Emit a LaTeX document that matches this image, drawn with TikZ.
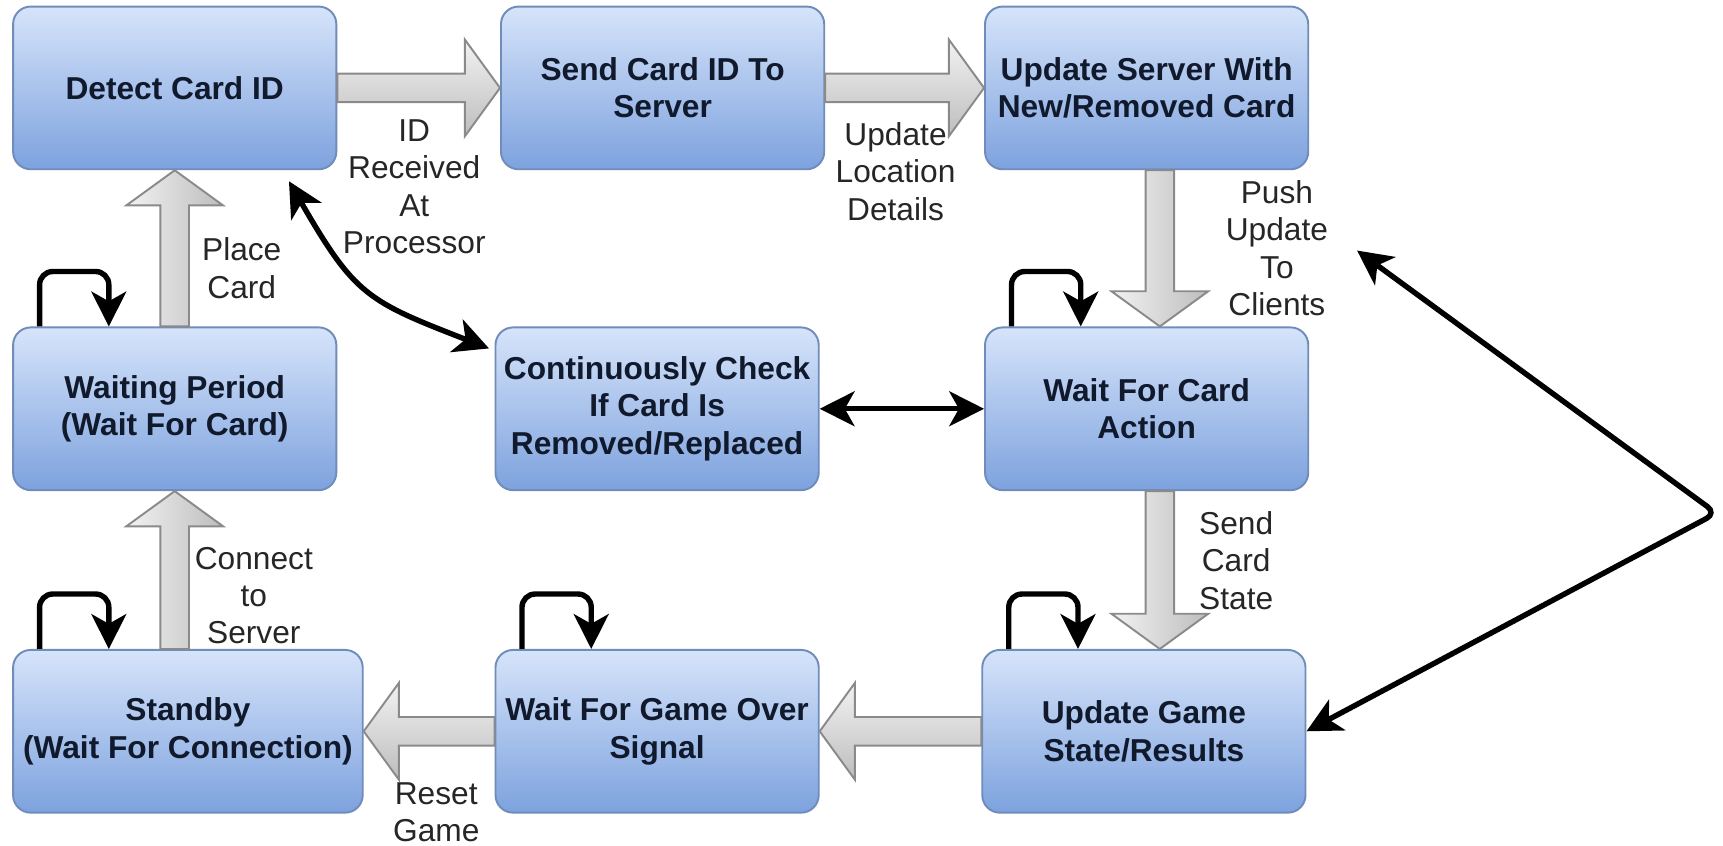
\documentclass[tikz,border=0pt]{standalone}
\usepackage{fontspec}
\setmainfont{Liberation Sans}
\usetikzlibrary{calc,arrows.meta}

\definecolor{boxtop}{HTML}{D6E4FA}
\definecolor{boxbottom}{HTML}{7DA2DE}
\definecolor{boxedge}{HTML}{6F8CBB}
\definecolor{boxtext}{HTML}{111A2C}
\definecolor{fattop}{HTML}{F2F2F2}
\definecolor{fatbottom}{HTML}{BDBDBD}
\definecolor{fatedge}{HTML}{8A8A8A}

\tikzset{
  state/.style={rectangle, rounded corners=0.16cm, draw=boxedge, line width=0.5pt,
    top color=boxtop, bottom color=boxbottom, text=boxtext,
    minimum width=2.94cm, minimum height=1.48cm, align=center, inner sep=1pt,
    font=\fontsize{8.2}{9.7}\selectfont\bfseries},
  note/.style={align=center, inner sep=0pt, text=black!85,
    font=\fontsize{8.2}{9.7}\selectfont},
  % wide grey arrow between two anchors
  fat/.style={draw=fatedge, line width=0.5pt, top color=fattop, bottom color=fatbottom,
    to path={let \p1=($(\tikztotarget)!0.32cm!(\tikztostart)$) in
      ($(\tikztostart)!0.13cm!90:(\tikztotarget)$)
      -- ($(\p1)!0.13cm!-90:(\tikztostart)$)
      -- ($(\p1)!0.44cm!-90:(\tikztostart)$)
      -- (\tikztotarget)
      -- ($(\p1)!0.44cm!90:(\tikztostart)$)
      -- ($(\p1)!0.13cm!90:(\tikztostart)$)
      -- ($(\tikztostart)!0.13cm!-90:(\tikztotarget)$) -- cycle}},
  tip/.tip={Stealth[length=9pt,width=9pt,inset=2.5pt]},
  link/.style={line width=1.4pt, tip-tip},
  selfloop/.style={line width=1.4pt, rounded corners=0.12cm, -tip}
}

\begin{document}
\begin{tikzpicture}[x=0.01cm, y=0.01cm]
  \useasboundingbox (0,0) rectangle (1568,-769);

  \node[state] (detect) at (159,-80) {Detect Card ID};
  \node[state] (send) at (603,-80) {Send Card ID To\\Server};
  \node[state] (server) at (1043.5,-80) {Update Server With\\New/Removed Card};
  \node[state] (waiting) at (159,-372) {Waiting Period\\(Wait For Card)};
  \node[state] (check) at (598,-372) {Continuously Check\\If Card Is\\Removed/Replaced};
  \node[state] (wfca) at (1043.5,-372) {Wait For Card\\Action};
  \node[state, minimum width=3.18cm] (standby) at (171,-665.5) {Standby\\(Wait For Connection)};
  \node[state] (gameover) at (598,-665.5) {Wait For Game Over\\Signal};
  \node[state] (game) at (1041,-665.5) {Update Game\\State/Results};

  \node[note] (idrx) at (377,-170) {ID\\Received\\At\\Processor};
  \node[note] (locdet) at (815,-156) {Update\\Location\\Details};
  \node[note] (push) at (1162,-226) {Push\\Update\\To\\Clients};
  \node[note] (place) at (220,-244) {Place\\Card};
  \node[note] (cardst) at (1125,-510) {Send\\Card\\State};
  \node[note] (connect) at (231,-542) {Connect\\to\\Server};
  \node[note] (reset) at (397,-739) {Reset\\Game};

  % main flow
  \path[fat] (detect.east) to (send.west);
  \path[fat] (send.east) to (server.west);
  \path[fat, shading angle=90] ($(server.south)+(12,0)$) to ($(wfca.north)+(12,0)$);
  \path[fat, shading angle=90] ($(wfca.south)+(12,0)$) to ($(wfca.south |- game.north)+(12,0)$);
  \path[fat] (game.west) to (gameover.east);
  \path[fat] (gameover.west) to (standby.east);
  \path[fat, shading angle=90] (standby.north -| waiting.south) to (waiting.south);
  \path[fat, shading angle=90] (waiting.north) to (detect.south);

  \draw[link] ($(detect.south east)+(-44,-10)$) .. controls +(60,-104) and +(-111,43) .. ($(check.north west)+(-5,-20)$);
  \draw[link] (check.east) -- (wfca.west);
  \coordinate (bend) at (1562,-467);
  \coordinate (pushtip) at (1235,-228);
  \draw[link, rounded corners=0.1cm] (game.east) -- (bend) -- (pushtip);

  \foreach \b in {waiting,standby,gameover,game,wfca}
    \draw[selfloop] ($(\b.north west)+(25,0)$) -- ++(0,50) -- ++(63,0) -- ($(\b.north west)+(88,0)$);
\end{tikzpicture}
\end{document}
